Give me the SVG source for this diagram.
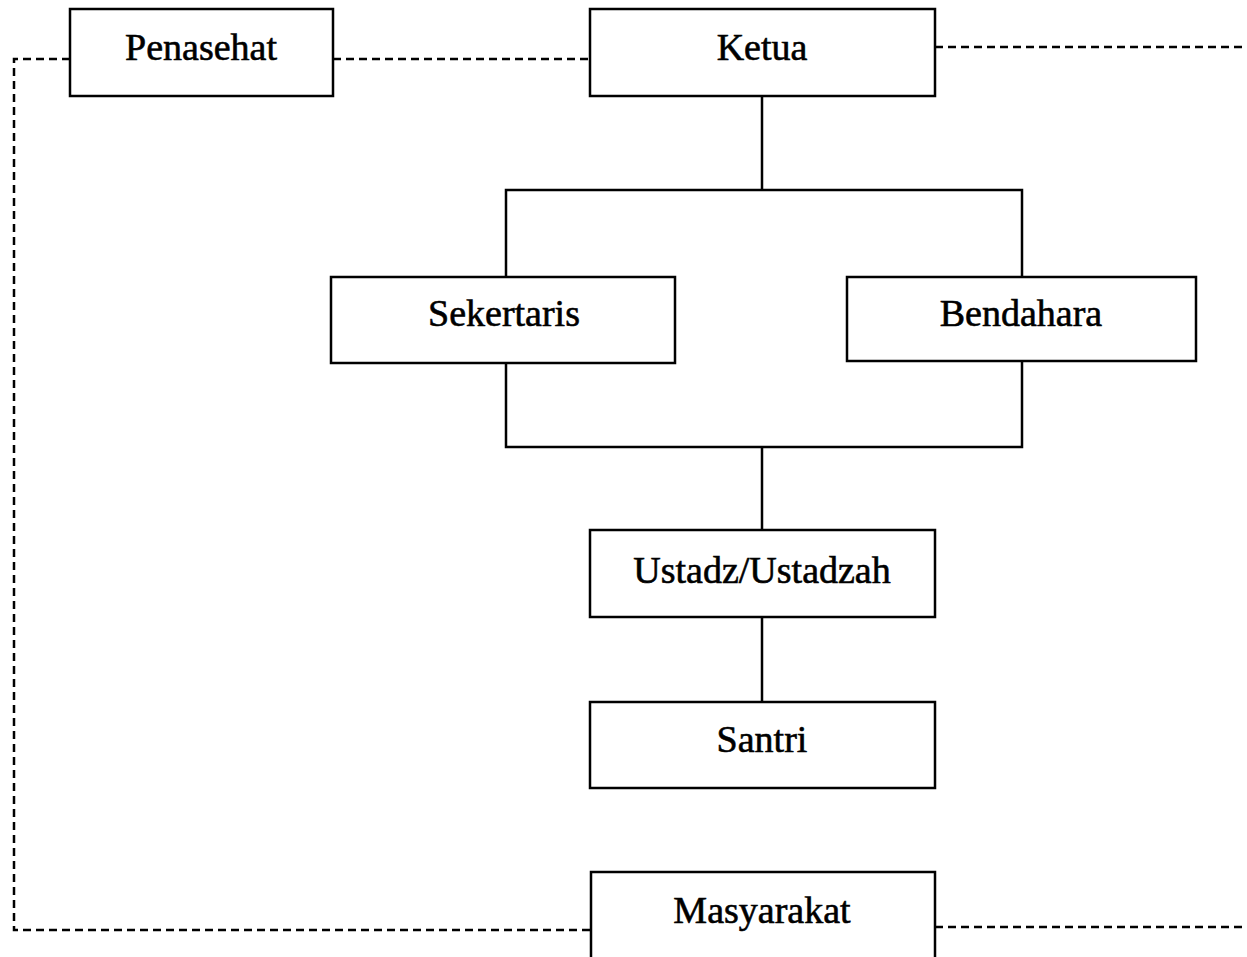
<svg xmlns="http://www.w3.org/2000/svg" width="1247" height="957" viewBox="0 0 1247 957">
<style>
.box{fill:#fff;stroke:#000;stroke-width:2.5}
.t{font-family:"Liberation Serif","Times New Roman",serif;font-size:38px;fill:#000;stroke:#000;stroke-width:0.6;text-anchor:middle}
.solid{fill:none;stroke:#000;stroke-width:2.5}
.dash{fill:none;stroke:#000;stroke-width:2.5;stroke-dasharray:8 5}
</style>
<rect width="1247" height="957" fill="#fff"/>
<g id="connectors">
<path class="dash" d="M70 59 H14 V930 H591"/>
<path class="dash" d="M333 59 H590"/>
<path class="dash" d="M935 47 H1247"/>
<path class="dash" d="M935 927 H1247"/>
<path class="solid" d="M762 96 V190 M506 277 V190 H1022 V277"/>
<path class="solid" d="M506 363 V447 H1022 V361 M762 447 V530"/>
<path class="solid" d="M762 617 V702"/>
</g>
<g id="penasehat"><rect class="box" x="70" y="9" width="263" height="87"/><text class="t" x="201" y="60">Penasehat</text></g>
<g id="ketua"><rect class="box" x="590" y="9" width="345" height="87"/><text class="t" x="762" y="60">Ketua</text></g>
<g id="sekertaris"><rect class="box" x="331" y="277" width="344" height="86"/><text class="t" x="504" y="326">Sekertaris</text></g>
<g id="bendahara"><rect class="box" x="847" y="277" width="349" height="84"/><text class="t" x="1021" y="326">Bendahara</text></g>
<g id="ustadz"><rect class="box" x="590" y="530" width="345" height="87"/><text class="t" x="762" y="583">Ustadz/Ustadzah</text></g>
<g id="santri"><rect class="box" x="590" y="702" width="345" height="86"/><text class="t" x="762" y="752">Santri</text></g>
<g id="masyarakat"><rect class="box" x="591" y="872" width="344" height="90"/><text class="t" x="762" y="923">Masyarakat</text></g>
</svg>
